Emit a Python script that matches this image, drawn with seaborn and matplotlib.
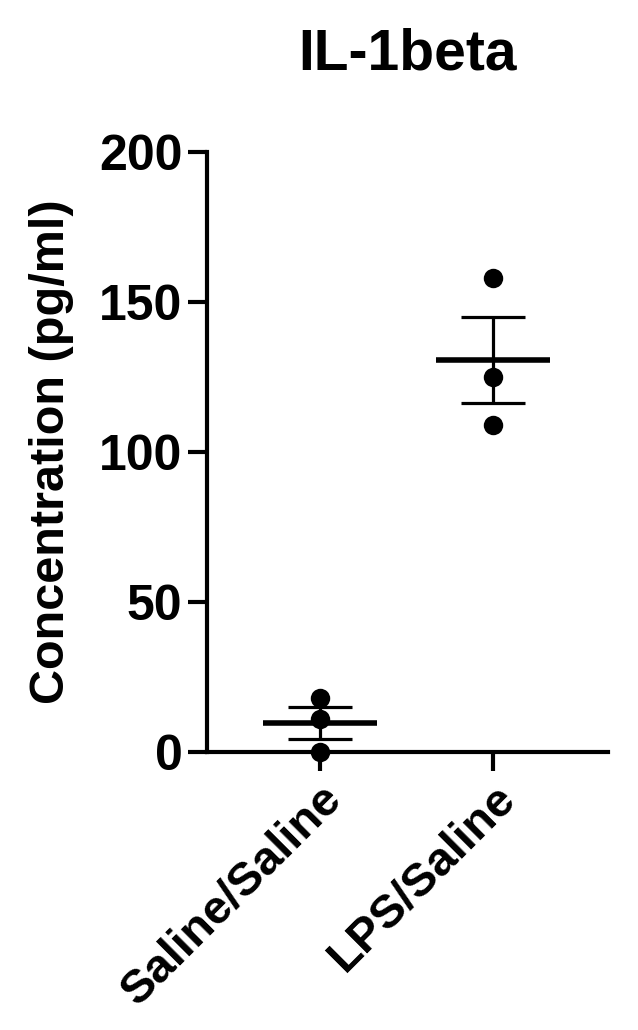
import numpy as np
import pandas as pd
import matplotlib
matplotlib.use("Agg")
import matplotlib.pyplot as plt
import seaborn as sns

groups = ["Saline/Saline", "LPS/Saline"]
saline_vals = [18, 11, 0]
lps_vals = [158, 125, 109]
y_ticks = [0, 50, 100, 150, 200]

df = pd.DataFrame({
    "group": [groups[0]] * len(saline_vals) + [groups[1]] * len(lps_vals),
    "value": saline_vals + lps_vals,
})

sns.set_style("ticks", {"axes.edgecolor": "black", "text.color": "black",
                        "xtick.color": "black", "ytick.color": "black",
                        "axes.labelcolor": "black"})
plt.rcParams["font.family"] = ["Liberation Sans", "DejaVu Sans"]
plt.rcParams["font.weight"] = "bold"

fig = plt.figure(figsize=(6.38, 10.3), dpi=100)
ax = fig.add_axes([0.324, 0.270, 0.629, 0.582])

sns.stripplot(data=df, x="group", y="value", order=groups, jitter=False,
              color="black", size=14, ax=ax, clip_on=False, zorder=3)

# mean and SEM bars
for i, g in enumerate(groups):
    v = df.loc[df.group == g, "value"].to_numpy(float)
    m = v.mean()
    sem = v.std(ddof=1) / np.sqrt(len(v))
    ax.hlines(m, i - 0.33, i + 0.33, color="black", lw=4, zorder=4)
    ax.vlines(i, m - sem, m + sem, color="black", lw=2.3, zorder=4)
    ax.hlines([m - sem, m + sem], i - 0.185, i + 0.185, color="black", lw=2.3, zorder=4)

ax.set_xlim(-0.654, 1.666)
ax.set_ylim(0, 200)
ax.set_yticks(y_ticks)
ax.set_xlabel("")
ax.set_ylabel("Concentration (pg/ml)", fontsize=35, fontweight="bold", labelpad=18)
ax.set_title("IL-1beta", fontsize=41, fontweight="bold", pad=60)
sns.despine(ax=ax)
for s in ["left", "bottom"]:
    ax.spines[s].set_linewidth(3)
ax.tick_params(axis="both", width=3, length=14, labelsize=36)
plt.setp(ax.get_xticklabels(), rotation=45, ha="right", rotation_mode="anchor",
         fontsize=34, fontweight="bold")
plt.setp(ax.get_yticklabels(), fontweight="bold")

fig.savefig("out.png", dpi=100)
